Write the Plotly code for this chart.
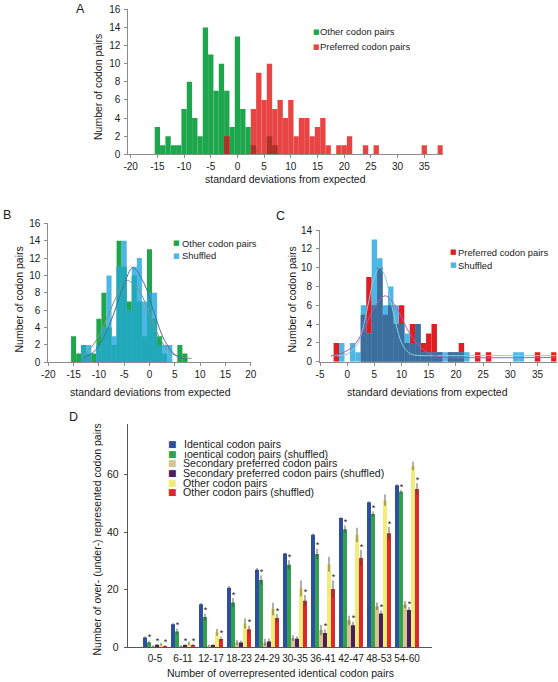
import plotly.graph_objects as go

# ---------------- DATA ----------------
# Panel A / B : "Other codon pairs" histogram (bin centre -> count)
other_bins = [-15, -14, -13, -12, -11, -10, -9, -8, -7, -6, -5, -4, -3, -2, -1, 0, 1, 2, 3, 4, 5, 6, 7]
other_counts = [3, 1, 2, 1, 1, 5, 8, 4, 2, 14, 11, 7, 10, 7, 3, 13, 5, 3, 1, 0, 0, 2, 1]

# Panel A / C : "Preferred codon pairs"
pref_bins = [-2, -1, 0, 1, 2, 3, 4, 5, 6, 7, 8, 9, 10, 11, 12, 13, 14, 15, 16, 17, 18, 19, 20,
             21, 22, 23, 24, 25, 26, 27, 28, 29, 30, 31, 32, 33, 34, 35, 36, 37, 38]
pref_counts = [2, 0, 0, 0, 0, 5, 9, 6, 10, 5, 6, 4, 6, 2, 4, 4, 2, 3, 4, 1, 0, 1, 1,
               2, 0, 0, 1, 0, 1, 0, 0, 0, 0, 0, 0, 0, 0, 1, 0, 0, 1]

# Panel B : shuffled "other"
shuf_other_bins = [-13, -12, -11, -10, -9, -8, -7, -6, -5, -4, -3, -2, -1, 0, 1, 2, 3, 4]
shuf_other_counts = [2, 2, 0, 2, 4, 10, 3, 11, 14, 6, 11, 12, 7, 8, 8, 2, 2, 2]

# Panel C : shuffled "preferred"
shuf_pref_bins = [-1, 0, 1, 2, 3, 4, 5, 6, 7, 8, 9, 10, 11, 12, 13, 14, 15, 16, 17, 18, 19, 20,
                  21, 22, 23, 24, 25, 26, 27, 28, 29, 30, 31, 32]
shuf_pref_counts = [2, 0, 2, 1, 6, 3, 13, 11, 6, 8, 6, 4, 3, 2, 4, 1, 1, 1, 1, 1, 1, 1,
                    1, 1, 0, 0, 0, 0, 0, 0, 0, 0, 1, 1]

# fitted curves
B_shuf_fit_x = [-13, -11, -9, -7, -5, -3.3, -1, 1, 3, 5, 7.5]
B_shuf_fit_y = [0.5, 1.2, 2.9, 5.7, 9.0, 10.9, 9.0, 5.5, 2.5, 0.9, 0.3]
B_other_fit_x = [-13.5, -11, -9, -7, -5, -4.2, -2, 0, 2, 4, 6, 8.3]
B_other_fit_y = [0.6, 2.1, 4.3, 7.0, 9.2, 9.4, 8.2, 5.6, 2.8, 1.2, 0.6, 0.45]
C_shuf_fit_x = [-3, 0, 2, 3, 4, 5, 6, 7, 8, 9, 10, 11, 12, 14, 20, 38.5]
C_shuf_fit_y = [0.65, 0.8, 2.0, 3.8, 6.5, 9.0, 10.0, 9.0, 6.5, 3.9, 2.0, 1.1, 0.75, 0.65, 0.65, 0.65]
C_pref_fit_x = [-3, -1, 1, 3, 5, 7, 9, 11, 13, 15, 17, 20, 38.5]
C_pref_fit_y = [0.6, 0.9, 1.6, 3.3, 5.8, 7.0, 5.8, 3.5, 1.8, 0.9, 0.55, 0.45, 0.45]

# Panel D
D_categories = ["0-5", "6-11", "12-17", "18-23", "24-29", "30-35", "36-41", "42-47", "48-53", "54-60"]
D_series_names = ["Identical codon pairs", "\u0131oentical codon pairs (shuffled)",
                  "Secondary preferred codon pairs", "Secondary preferred codon pairs (shuffled)",
                  "Other codon pairs", "Other codon pairs (shuffled)"]
D_identical = [3.3, 7.9, 14.9, 20.6, 26.9, 32.5, 39.1, 44.9, 50.4, 56.3]
D_identical_shuf = [1.6, 5.4, 10.4, 15.5, 23.3, 28.6, 32.4, 41.0, 46.3, 54.0]
D_secondary = [0.3, 0.3, 0.5, 1.6, 1.6, 3.1, 5.9, 9.3, 14.2, 14.8]
D_secondary_shuf = [0.8, 0.7, 0.7, 1.6, 1.9, 2.9, 4.9, 7.6, 11.7, 12.9]
D_other = [0.9, 1.3, 5.1, 8.2, 13.2, 20.4, 28.8, 39.0, 51.1, 63.0]
D_other_shuf = [0.35, 0.7, 2.8, 6.2, 10.1, 16.1, 20.2, 31.0, 39.6, 55.0]
D_err_identical = [0.4, 0.5, 0.4, 0.6, 0.6, 0.3, 0.4, 0.3, 0.3, 0.3]
D_err_identical_shuf = [0.6, 1.0, 1.2, 1.5, 1.6, 1.6, 1.8, 1.3, 0.9, 0.6]
D_err_secondary = [0.3, 0.4, 0.3, 0.8, 1.2, 1.0, 1.8, 1.6, 1.3, 1.2]
D_err_secondary_shuf = [0.2, 0.3, 0.3, 0.6, 1.0, 0.8, 1.3, 1.2, 1.0, 1.0]
D_err_other = [0.5, 0.6, 1.2, 1.8, 2.2, 2.8, 2.6, 2.5, 2.0, 1.5]
D_err_other_shuf = [0.3, 0.4, 0.8, 1.2, 1.4, 2.0, 3.0, 2.8, 2.2, 2.0]
D_sig_identical_shuf = [1, 1, 1, 1, 1, 1, 1, 1, 1, 1]
D_sig_secondary_shuf = [1, 1, 0, 0, 0, 0, 1, 1, 1, 1]
D_sig_other_shuf = [1, 1, 1, 1, 1, 1, 1, 1, 1, 1]

A_xtickvals = [-20, -15, -10, -5, 0, 5, 10, 15, 20, 25, 30, 35]
A_xticktext = ["-20", "-15", "-10", "-5", "0", "5", "10", "15", "20", "25", "30", "35"]
B_xtickvals = [-20, -15, -10, -5, 0, 5, 10, 15, 20]
B_xticktext = ["-20", "-15", "-10", "-5", "0", "5", "10", "15", "20"]
C_xtickvals = [-5, 0, 5, 10, 15, 20, 25, 30, 35]
C_xticktext = ["-5", "0", "5", "10", "15", "20", "25", "30", "35"]

# ---------------- STYLE ----------------
W, H = 558, 682
FONT = "Liberation Sans, Arial, sans-serif"
TXT = "#1a1a1a"
AXC = "#8c8c8c"


def px(x):
    return x / W


def py(y):
    return 1 - y / H


def overlap(b1, c1, b2, c2):
    d1 = dict(zip(b1, c1))
    d2 = dict(zip(b2, c2))
    bins = sorted(set(b1) & set(b2))
    return bins, [min(d1[b], d2[b]) for b in bins]


fig = go.Figure()


def hist(x, y, color, xa, ya):
    fig.add_trace(go.Bar(x=x, y=y, width=1, offset=-0.5, marker=dict(color=color, line=dict(width=0)),
                         xaxis=xa, yaxis=ya, showlegend=False, hoverinfo="skip"))


# Panel A
GREEN = "#1ea64c"
RED_A = "#e84444"
hist(other_bins, other_counts, GREEN, "x", "y")
hist(pref_bins, pref_counts, RED_A, "x", "y")
ob, oc = overlap(other_bins, other_counts, pref_bins, pref_counts)
hist(ob, oc, "#b0302a", "x", "y")

# Panel B
BLUE = "#4cb6e4"
hist(other_bins, other_counts, GREEN, "x2", "y2")
hist(shuf_other_bins, shuf_other_counts, BLUE, "x2", "y2")
ob, oc = overlap(other_bins, other_counts, shuf_other_bins, shuf_other_counts)
hist(ob, oc, "#22a9b9", "x2", "y2")
fig.add_trace(go.Scatter(x=B_other_fit_x, y=B_other_fit_y, mode="lines", line=dict(color="#76998a", width=1, shape="spline"),
                         xaxis="x2", yaxis="y2", showlegend=False, hoverinfo="skip"))
fig.add_trace(go.Scatter(x=B_shuf_fit_x, y=B_shuf_fit_y, mode="lines", line=dict(color="#44709e", width=1, shape="spline"),
                         xaxis="x2", yaxis="y2", showlegend=False, hoverinfo="skip"))

# Panel C
RED_C = "#e01e22"
hist(pref_bins, pref_counts, RED_C, "x3", "y3")
hist(shuf_pref_bins, shuf_pref_counts, BLUE, "x3", "y3")
ob, oc = overlap(pref_bins, pref_counts, shuf_pref_bins, shuf_pref_counts)
hist(ob, oc, "#3c6e9e", "x3", "y3")
fig.add_trace(go.Scatter(x=C_shuf_fit_x, y=C_shuf_fit_y, mode="lines", line=dict(color="#86d0e4", width=1, shape="spline"),
                         xaxis="x3", yaxis="y3", showlegend=False, hoverinfo="skip", cliponaxis=True))
fig.add_trace(go.Scatter(x=C_pref_fit_x, y=C_pref_fit_y, mode="lines", line=dict(color="#b45ab4", width=1, shape="spline"),
                         xaxis="x3", yaxis="y3", showlegend=False, hoverinfo="skip", cliponaxis=True))

# Panel D
D_colors = ["#2d4f9e", "#31a04f", "#d6c58e", "#4b1d5c", "#f2ec7a", "#e0282a"]
D_values = [D_identical, D_identical_shuf, D_secondary, D_secondary_shuf, D_other, D_other_shuf]
D_errs = [D_err_identical, D_err_identical_shuf, D_err_secondary, D_err_secondary_shuf, D_err_other, D_err_other_shuf]
D_sig = {1: D_sig_identical_shuf, 3: D_sig_secondary_shuf, 5: D_sig_other_shuf}
idx = list(range(len(D_categories)))
BARGAP = 0.143
bw = (1 - BARGAP) / 6
for k in range(6):
    fig.add_trace(go.Bar(x=idx, y=D_values[k], marker=dict(color=D_colors[k], line=dict(width=0)),
                         error_y=dict(type="data", array=D_errs[k], color="#3a3a3a", thickness=0.8, width=0),
                         xaxis="x4", yaxis="y4", showlegend=False, hoverinfo="skip"))
for k, sig in D_sig.items():
    off = -(1 - BARGAP) / 2 + (k + 0.5) * bw
    xs = [i + off + 0.02 for i in idx]
    ys = [v + e + 0.9 for v, e in zip(D_values[k], D_errs[k])]
    txt = ["*" if s else "" for s in sig]
    fig.add_trace(go.Scatter(x=xs, y=ys, mode="text", text=txt, textposition="middle center",
                             textfont=dict(family=FONT, size=9, color=TXT),
                             xaxis="x4", yaxis="y4", showlegend=False, hoverinfo="skip"))

tickfont = dict(family=FONT, size=10, color=TXT)


def xax(domain, rng, tv, tt, anchor):
    return dict(domain=domain, range=rng, tickvals=tv, ticktext=tt, anchor=anchor, showgrid=False, zeroline=False,
                showline=True, linecolor=AXC, linewidth=1, ticks="outside", ticklen=3, tickcolor=AXC,
                tickfont=tickfont, ticklabelstandoff=0, tickangle=0, automargin=False)


def yax(domain, rng, dtick, anchor):
    return dict(domain=domain, range=rng, dtick=dtick, tick0=0, anchor=anchor, showgrid=False, zeroline=False,
                showline=True, linecolor=AXC, linewidth=1, ticks="outside", ticklen=3, tickcolor=AXC,
                tickfont=tickfont, ticklabelstandoff=2, automargin=False)


fig.update_layout(
    width=W, height=H, margin=dict(l=0, r=0, t=0, b=0, pad=0), autosize=False,
    paper_bgcolor="white", plot_bgcolor="white",
    barmode="group", bargap=BARGAP, bargroupgap=0, showlegend=False,
    font=dict(family=FONT, color=TXT),
    xaxis=xax([px(128.3), px(442.7)], [-20.45, 38.45], A_xtickvals, A_xticktext, "y"),
    yaxis=yax([py(154.3), py(9.3)], [0, 16], 2, "x"),
    xaxis2=xax([px(48.3), px(250.7)], [-20, 20], B_xtickvals, B_xticktext, "y2"),
    yaxis2=yax([py(362.3), py(223.3)], [0, 16], 2, "x2"),
    xaxis3=xax([px(320), px(556.6)], [-5, 38.5], C_xtickvals, C_xticktext, "y3"),
    yaxis3=yax([py(361.7), py(230)], [0, 14], 2, "x3"),
    xaxis4=dict(domain=[px(127.7), px(432.3)], range=[-0.975, 9.904], tickvals=idx, ticktext=D_categories,
                anchor="y4", showgrid=False, zeroline=False, showline=True, linecolor="#555", linewidth=1,
                ticks="", tickangle=0, automargin=False, tickfont=dict(family=FONT, size=10, color=TXT),
                ticklabelstandoff=2),
    yaxis4=dict(domain=[py(647), py(424)], range=[0, 77.6], tickvals=[0, 20, 40, 60], anchor="x4",
                showgrid=False, zeroline=False, showline=True, linecolor="#555", linewidth=1, automargin=False,
                ticks="outside", ticklen=3, tickcolor="#555", tickfont=dict(family=FONT, size=10.5, color=TXT),
                ticklabelstandoff=3),
)

ann = []


def text(x, y, s, size=10.5, xanchor="center", yanchor="middle", angle=0, color=TXT, family=FONT):
    ann.append(dict(x=px(x), y=py(y), xref="paper", yref="paper", text=s, showarrow=False,
                    xanchor=xanchor, yanchor=yanchor, textangle=angle,
                    font=dict(family=family, size=size, color=color)))


# panel letters
text(80, 9, "A", size=12.5)
text(7, 215, "B", size=12.5)
text(280, 216.5, "C", size=12.5)
text(73, 417, "D", size=12.5)

# axis titles
text(285.5, 178.5, "standard deviations from expected")
text(98, 87, "Number of codon pairs", angle=-90)
text(150, 392, "standard deviations from expected")
text(18.5, 300, "Number of codon pairs", angle=-90)
text(427, 392, "standard deviations from expected")
text(291.5, 300, "Number of codon pairs", angle=-90)
text(96.5, 540, "Number of over- (under-) represented codon pairs", angle=-90)
text(280, 673, "Number of overrepresented identical codon pairs")


def legend_row(xm, xt, y, color, label, msize=7, tsize=9.4):
    text(xm, y, "\u25a0", size=msize, xanchor="left", color=color, family="DejaVu Sans")
    text(xt, y, label, size=tsize, xanchor="left")


legend_row(310.8, 318.3, 31.7, GREEN, "Other codon pairs")
legend_row(310.8, 318.3, 46.7, RED_A, "Preferred codon pairs")
legend_row(171, 179.5, 243.3, GREEN, "Other codon pairs")
legend_row(171, 179.5, 255.7, BLUE, "Shuffled")
legend_row(448, 456, 252, RED_C, "Preferred codon pairs")
legend_row(448, 456, 265, BLUE, "Shuffled")
D_leg_y = [444, 453.7, 463.3, 473, 482.5, 492]
D_leg_xt = [182.3, 182.3, 180.8, 180.8, 180.8, 180.8]
for k in range(6):
    legend_row(166.2, D_leg_xt[k], D_leg_y[k], D_colors[k], D_series_names[k], msize=9, tsize=10.6)

fig.update_layout(annotations=ann)
fig.write_html("out.html", config={"displayModeBar": False, "staticPlot": True},
               post_script="document.body.style.margin='0';document.body.style.padding='0';"
                           "document.body.style.overflow='hidden';")
